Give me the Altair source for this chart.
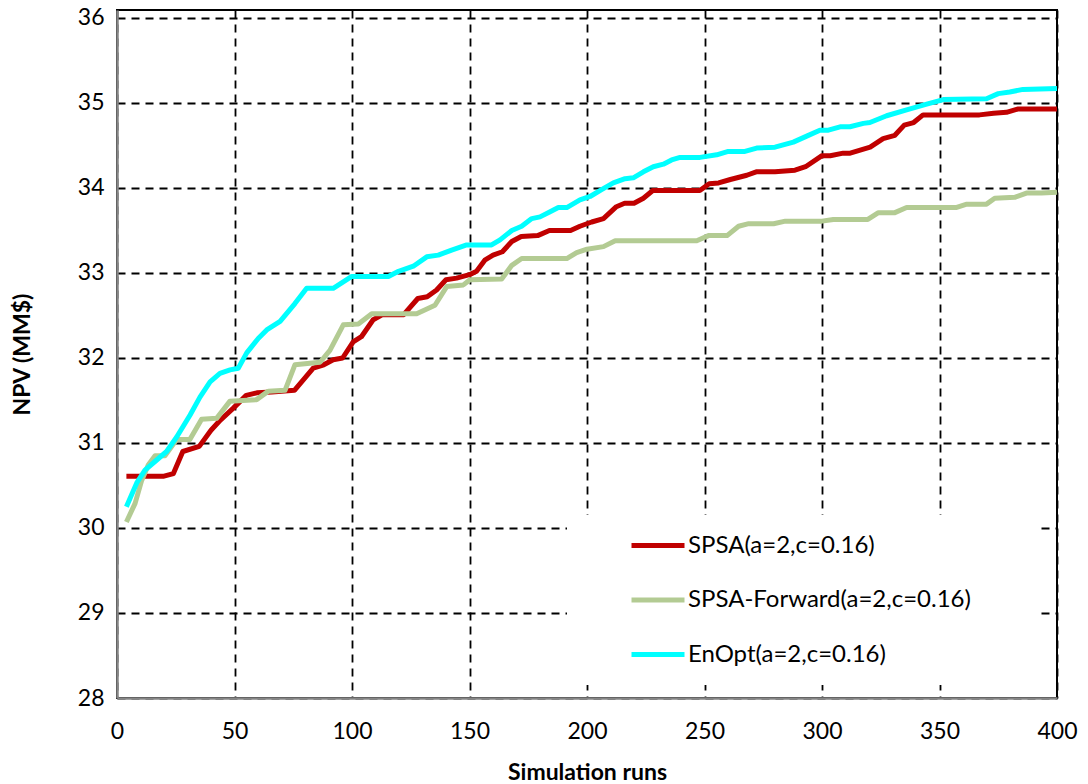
import altair as alt
import pandas as pd

# Series labels and colours
series_names = ["SPSA(a=2,c=0.16)", "SPSA-Forward(a=2,c=0.16)", "EnOpt(a=2,c=0.16)"]
series_colors = ["#C00000", "#B3CB93", "#00FFFF"]

# SPSA (central differences)
spsa_runs = [4, 20, 24, 28, 35, 40, 44, 49.5, 55, 59.5, 66, 75.5, 83.5, 88, 92, 96,
             100.5, 104, 109, 113, 122, 128, 132, 136, 140, 144.5, 150, 153, 156.5,
             160, 164, 168, 172, 179, 184, 193, 197, 202, 207, 212.5, 216, 220, 224,
             228, 248, 252, 256, 261, 268, 272, 280, 288.5, 293, 300, 303.5, 309,
             312, 320.5, 326, 331, 335, 339, 343, 367, 373, 378.5, 383.5, 400]
spsa_npv = [30.61, 30.61, 30.64, 30.90, 30.96, 31.15, 31.27, 31.41, 31.56, 31.59, 31.60,
            31.62, 31.88, 31.92, 31.98, 32.00, 32.19, 32.25, 32.45, 32.51, 32.51, 32.70,
            32.72, 32.80, 32.92, 32.94, 32.98, 33.02, 33.15, 33.21, 33.25, 33.37, 33.43,
            33.44, 33.50, 33.50, 33.55, 33.60, 33.64, 33.78, 33.82, 33.82, 33.88, 33.97,
            33.97, 34.05, 34.06, 34.10, 34.15, 34.19, 34.19, 34.21, 34.25, 34.38, 34.38,
            34.41, 34.41, 34.48, 34.58, 34.62, 34.74, 34.77, 34.86, 34.86, 34.88, 34.89,
            34.93, 34.93]

# SPSA with forward differences
fwd_runs = [4, 7.7, 10.5, 13.3, 16.2, 20.4, 25.4, 31, 36, 42.4, 48, 59.4, 64.4, 71.5,
            75.7, 86.4, 90.6, 96.3, 102.7, 108.4, 127.5, 135.3, 140.3, 147.4, 150.2,
            163.7, 168, 172.2, 191.4, 195.6, 200, 207, 212, 246.7, 251.7, 259.6, 264.5,
            268.8, 279.4, 284.4, 300, 304.8, 319.5, 324, 331, 336, 357, 361.6, 370,
            373.5, 382, 387, 393.4, 400]
fwd_npv = [30.07, 30.29, 30.56, 30.74, 30.85, 30.85, 31.04, 31.04, 31.28, 31.29, 31.49,
           31.51, 31.61, 31.62, 31.92, 31.95, 32.09, 32.39, 32.40, 32.52, 32.52, 32.62,
           32.84, 32.86, 32.92, 32.93, 33.09, 33.17, 33.17, 33.24, 33.28, 33.31, 33.38,
           33.38, 33.44, 33.44, 33.55, 33.58, 33.58, 33.61, 33.61, 33.63, 33.63, 33.71,
           33.71, 33.77, 33.77, 33.81, 33.81, 33.88, 33.89, 33.94, 33.94, 33.95]

# EnOpt
enopt_runs = [4, 8.4, 11.9, 16.9, 21.1, 25.4, 31.1, 35.3, 39.6, 43.8, 48.1, 51.6, 55.2,
              60.1, 63.7, 69.4, 75.7, 80.7, 92, 99.9, 115.5, 119.8, 126.1, 131.8, 136.7,
              142.4, 148.8, 159.4, 163, 168, 172.2, 176.5, 180, 184.3, 187.8, 191.4, 197,
              201.3, 206.2, 211.2, 216.2, 219.7, 224, 228.2, 232.5, 236, 239.6, 248.1,
              255.2, 260.1, 267.2, 272.2, 280, 287.8, 293.5, 299.1, 302.7, 307.7, 311.9,
              317.6, 320.4, 327.5, 336, 343.8, 351.6, 370, 375, 379.9, 385.5, 400]
enopt_npv = [30.25, 30.53, 30.68, 30.80, 30.90, 31.07, 31.33, 31.54, 31.72, 31.82, 31.86,
             31.88, 32.06, 32.23, 32.33, 32.43, 32.64, 32.82, 32.82, 32.96, 32.96, 33.02,
             33.08, 33.19, 33.21, 33.27, 33.33, 33.33, 33.39, 33.50, 33.55, 33.64, 33.66,
             33.72, 33.77, 33.77, 33.86, 33.90, 33.98, 34.06, 34.11, 34.12, 34.19, 34.25,
             34.28, 34.33, 34.36, 34.36, 34.39, 34.43, 34.43, 34.47, 34.48, 34.54, 34.61,
             34.68, 34.68, 34.72, 34.72, 34.76, 34.77, 34.85, 34.92, 34.98, 35.04, 35.05,
             35.11, 35.13, 35.16, 35.17]

x_ticks = [0, 50, 100, 150, 200, 250, 300, 350, 400]
y_ticks = [28, 29, 30, 31, 32, 33, 34, 35, 36]

rows = []
for name, xs, ys in zip(series_names,
                        [spsa_runs, fwd_runs, enopt_runs],
                        [spsa_npv, fwd_npv, enopt_npv]):
    for i, (xv, yv) in enumerate(zip(xs, ys)):
        rows.append({"series": name, "runs": xv, "npv": yv, "step": i})
df = pd.DataFrame(rows)

FONT = "Lato"

lines = alt.Chart(df).mark_line(strokeWidth=5, strokeJoin="round").encode(
    x=alt.X("runs:Q",
            scale=alt.Scale(domain=[0, 400], nice=False, zero=False),
            axis=alt.Axis(values=x_ticks, title="Simulation runs", format="d",
                          labelFlush=False)),
    y=alt.Y("npv:Q",
            scale=alt.Scale(domain=[28, 36.094], nice=False, zero=False),
            axis=alt.Axis(values=y_ticks, title="NPV (MM$)", format="d",
                          labelFlush=False)),
    color=alt.Color("series:N",
                    scale=alt.Scale(domain=series_names, range=series_colors),
                    legend=alt.Legend(
                        title=None, orient="none", legendX=512, legendY=506.5,
                        symbolType="stroke", symbolSize=2809, symbolStrokeWidth=5,
                        labelFont=FONT, labelFontSize=24, labelColor="#000000",
                        labelOffset=1, labelLimit=600, rowPadding=13.5, padding=0)),
    order="step:Q",
)

# white panel behind the legend entries
legend_panel = alt.Chart(pd.DataFrame({"k": [0]})).mark_rect(color="white").encode(
    x=alt.value(450), x2=alt.value(923), y=alt.value(505), y2=alt.value(675)
)

chart = alt.layer(legend_panel, lines).properties(
    width=940, height=688,
    autosize=alt.AutoSizeParams(type="none"),
    padding={"left": 117, "top": 10, "right": 31, "bottom": 86},
    background="white",
).configure_view(
    stroke="#000000", strokeWidth=2
).configure_axis(
    grid=True, gridColor="#000000", gridDash=[8, 6], gridWidth=1.8, gridOpacity=1,
    domainColor="#868686", domainWidth=2.5, ticks=False,
    labelFont=FONT, labelFontSize=23, labelColor="#000000",
    titleFont=FONT, titleFontSize=23, titleFontWeight="bold", titleColor="#000000",
).configure_axisX(
    labelPadding=22, titlePadding=18
).configure_axisY(
    labelPadding=13, titlePadding=43
)

chart.save("out.html", embed_options={"renderer": "svg", "actions": False})
